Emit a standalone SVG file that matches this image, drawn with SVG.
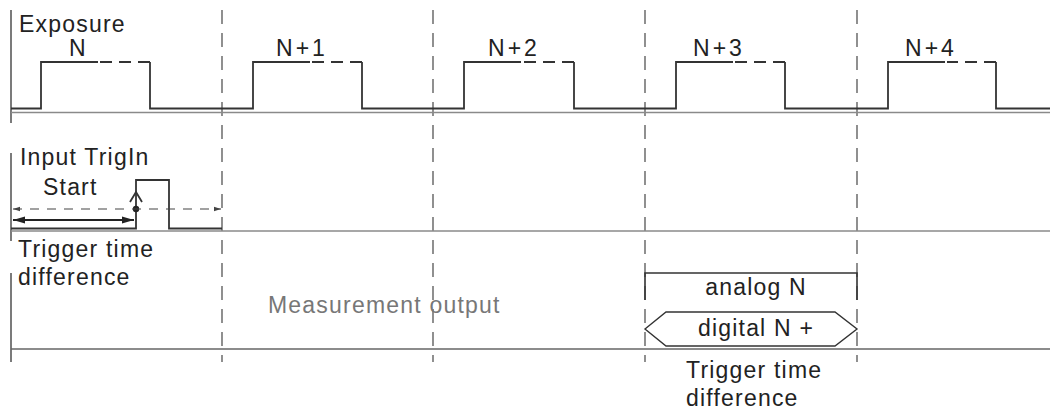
<svg xmlns="http://www.w3.org/2000/svg" width="1058" height="412" viewBox="0 0 1058 412">
<style>
text{font-family:"Liberation Sans",Arial,Helvetica,sans-serif;font-size:23px;fill:#222;letter-spacing:1.2px}
.mid{text-anchor:middle}
.gray{fill:#777}
.sig{fill:none;stroke:#333;stroke-width:1.8}
.dsig{fill:none;stroke:#333;stroke-width:1.8;stroke-dasharray:12 7}
.base{fill:none;stroke:#8a8a8a;stroke-width:1.6}
.axis{fill:none;stroke:#444;stroke-width:1.4}
.grid{fill:none;stroke:#555;stroke-width:1.3;stroke-dasharray:14 9}
.darr{fill:none;stroke:#444;stroke-width:1.2;stroke-dasharray:9 8}
.sarr{fill:none;stroke:#222;stroke-width:1.8}
.nl{letter-spacing:3px}
</style>
<defs>
<marker id="fa" viewBox="0 0 12 8" refX="12" refY="4" markerWidth="12" markerHeight="8" markerUnits="userSpaceOnUse" orient="auto-start-reverse">
<path d="M0,0.5 L12,4 L0,7.5 Z" fill="#222"/>
</marker>
<marker id="sa" viewBox="0 0 7 6" refX="7" refY="3" markerWidth="7" markerHeight="6" markerUnits="userSpaceOnUse" orient="auto-start-reverse">
<path d="M0,0.8 L7,3 L0,5.2 Z" fill="#444"/>
</marker>
</defs>

<g id="grid">
<path class="grid" d="M222,10 V362 M433,10 V362 M645,10 V362 M857,10 V362"/>
<path class="axis" d="M11,10 V123 M11,153 V241 M11,273 V362"/>
</g>

<g id="exposure">
<path class="base" d="M11,112.5 H1050"/>
<path class="sig" d="M11,108.5 H41 V62 H98 M150,62 V108.5 H253 V62 H310 M362,62 V108.5 H464 V62 H521 M574,62 V108.5 H676 V62 H733 M785,62 V108.5 H888 V62 H945 M996,62 V108.5 H1050"/>
<path class="dsig" d="M150,62 H100 M362,62 H312 M574,62 H523 M785,62 H735 M996,62 H947"/>
<text x="19" y="32">Exposure</text>
<text class="mid" x="78" y="56">N</text>
<text class="mid nl" x="302" y="56">N+1</text>
<text class="mid nl" x="514" y="56">N+2</text>
<text class="mid nl" x="719" y="56">N+3</text>
<text class="mid nl" x="931" y="56">N+4</text>
</g>

<g id="trigin">
<path class="base" d="M11,231 H1050"/>
<path class="sig" d="M11,228.5 H136 V180 H169 V228.5 H222"/>
<path class="sig" d="M130,202 L136,192 L142,202"/>
<circle cx="136" cy="209" r="3.2" fill="#222"/>
<text x="20" y="165">Input TrigIn</text>
<text x="43" y="195">Start</text>
</g>

<g id="connectors">
<path class="darr" d="M13,209 H221" marker-start="url(#sa)" marker-end="url(#sa)"/>
<path class="sarr" d="M13,220 H134" marker-start="url(#fa)" marker-end="url(#fa)"/>
</g>

<g id="output">
<path class="base" d="M11,349 H1050" style="stroke:#666"/>
<text x="18" y="257">Trigger time</text>
<text x="18" y="285">difference</text>
<text class="gray" x="268" y="313">Measurement output</text>
</g>

<g id="analog">
<path class="sig" style="stroke-width:1.6" d="M645,300 V273 H857 V300"/>
<text class="mid" x="756" y="295">analog N</text>
</g>

<g id="digital">
<path class="sig" style="stroke-width:1.4" d="M645,329 L666,312 H835 L857,329 L835,346 H666 Z"/>
<text class="mid" x="756" y="336">digital N +</text>
</g>

<g id="trigger-diff">
<text x="686" y="378">Trigger time</text>
<text x="686" y="406">difference</text>
</g>
</svg>
